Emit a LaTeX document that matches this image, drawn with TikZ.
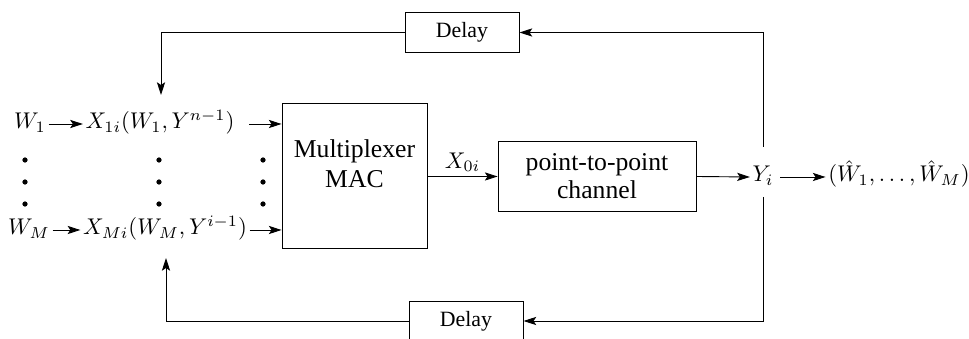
\documentclass[tikz,border=0pt]{standalone}
\usepackage{fontspec}
\newfontfamily\tmsfont{Liberation Serif}
\usetikzlibrary{arrows.meta,calc}
\newcommand{\blocktext}[1]{{\tmsfont\fontsize{11.3}{13}\selectfont #1}}
\begin{document}
\begin{tikzpicture}[x=0.44pt,y=-0.44pt,
  line width=0.4pt,
  arr/.style={-{Stealth[length=5.6pt,width=3.6pt,inset=1.2pt]}},
  mathlbl/.style={inner sep=1pt,anchor=mid},
  blockbox/.style={draw,rectangle,inner sep=0pt},
  dlybox/.style={draw,rectangle,inner sep=0pt,minimum width=50.2pt,minimum height=17.2pt},
  dotmark/.style={circle,fill,inner sep=0pt,minimum size=2.3pt}]
\path[use as bounding box] (0,0) rectangle (969,339);
\clip (0,0) rectangle (969,339);

% left inputs
\node[mathlbl] (W1) at (30,124) {$W_1$};
\node[mathlbl] (X1) at (160,124) {$X_{1i}(W_1,Y^{n-1})$};
\node[mathlbl] (WM) at (29,230) {$W_M$};
\node[mathlbl] (XM) at (165,230) {$X_{Mi}(W_M,Y^{i-1})$};

% dots
\foreach \c/\x in {a/25,b/159,c/263}{
  \node[dotmark] (\c1) at (\x,160) {};
  \node[dotmark] (\c2) at (\x,182) {};
  \node[dotmark] (\c3) at (\x,204) {};
}

% multiplexer
\node[blockbox,minimum width=63.8pt,minimum height=63.4pt] (mux) at (354.5,176) {};
\node[align=center,font=\fontsize{11.3}{13.2}\selectfont] (muxtxt) at (354.5,164) {\blocktext{Multiplexer}\\\blocktext{MAC}};

% channel
\node[blockbox,minimum width=87.1pt,minimum height=31.2pt,align=center,
      font=\fontsize{11.3}{12.4}\selectfont] (ch) at (597,176.5) {\blocktext{point-to-point}\\\blocktext{channel}};

% output
\node[mathlbl] (Yi) at (763,177) {$Y_i$};
\node[mathlbl] (What) at (899,177) {$(\hat{W}_1,\ldots,\hat{W}_M)$};

% delays
\node[dlybox] (d1) at (462,32.5) {\tmsfont\fontsize{9.6}{11}\selectfont Delay};
\node[dlybox] (d2) at (466,321) {\tmsfont\fontsize{9.6}{11}\selectfont Delay};

% coordinates
\coordinate (ytop) at ($(Yi.mid)+(0,-30)$);
\coordinate (ybot) at ($(Yi.mid)+(0,20)$);
\coordinate (fb1) at (161,95);
\coordinate (fb2) at (166,258);

% connectors
\draw[arr] (W1.mid east) -- (X1.mid west);
\draw[arr] (WM.mid east) -- (XM.mid west);
\draw[arr] ($(X1.mid east)+(12,0)$) -- (X1.mid -| mux.west);
\draw[arr] (XM.mid east) -- (XM.mid -| mux.west);
\draw[arr] (mux.east |- ch.west) -- node[above=1pt,inner sep=1pt] (x0) {$X_{0i}$} (ch.west);
\draw[arr] (ch.east) -- (Yi.mid west);
\draw[arr] ($(Yi.mid east)+(4,0)$) -- (What.mid west);
\draw[arr] (ytop) |- (d1.east);
\draw[arr] (d1.west) -| (fb1);
\draw[arr] (ybot) |- (d2.east);
\draw[arr] (d2.west) -| (fb2);
\end{tikzpicture}
\end{document}
